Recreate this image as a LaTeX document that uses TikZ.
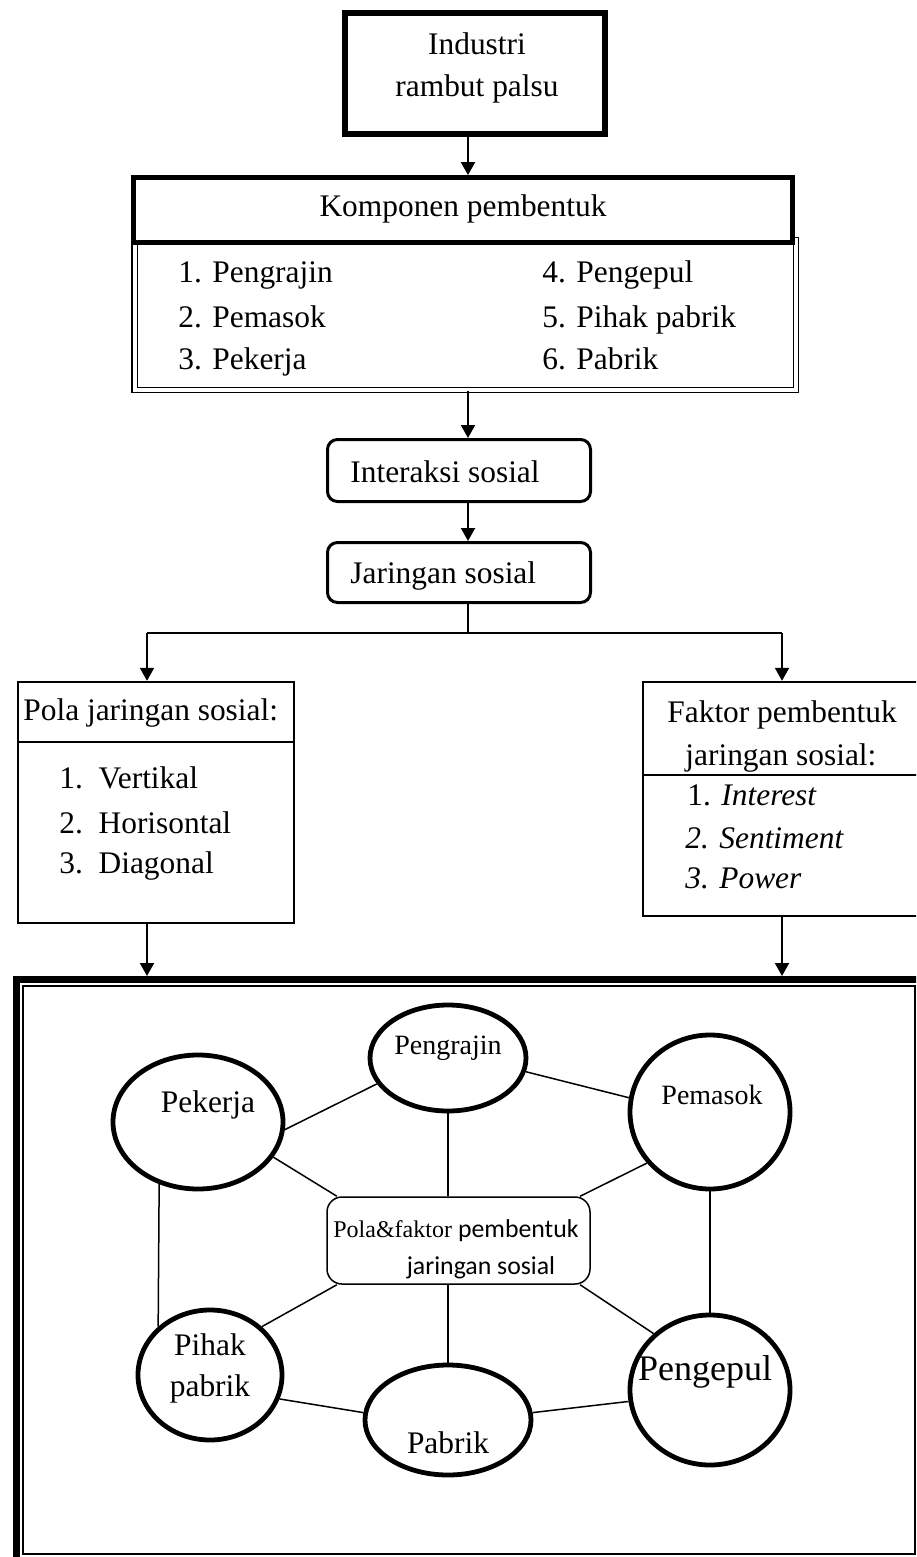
\documentclass[tikz,border=0pt]{standalone}
\usepackage{fontspec}
\setmainfont{Liberation Serif}
\newfontfamily\calibri{Carlito}
\usetikzlibrary{arrows.meta,shapes.geometric}

\begin{document}
\begin{tikzpicture}[x=0.5pt,y=-0.5pt,
    font=\fontsize{15.7}{20}\selectfont,
    arr/.style={-{Triangle[width=7pt,length=6.5pt]},line width=1pt},
    txt/.style={inner sep=0pt,anchor=base west},
    ctxt/.style={inner sep=0pt,anchor=base},
    panel/.style={draw,inner sep=0pt,line width=1.2pt},
    softbox/.style={draw,rounded corners=5pt,line width=1.5pt,minimum width=131.5pt},
    member/.style={draw,ellipse,inner sep=0pt,line width=2.4pt},
    link/.style={line width=0.75pt}]
    % Page size
    \useasboundingbox (0,0) rectangle (916,1557);
    \clip (0,0) rectangle (916,1557);
    \coordinate (spine) at (468,0);

    % Draw Top Box
    \node[draw,line width=3pt,minimum width=130pt,minimum height=60.5pt] (industri) at (475,73.5) {};
    \node[ctxt] (industriA) at (477,55) {Industri};
    \node[ctxt] (industriB) at (477,97) {rambut palsu};

    % Komponen Box
    \node[draw,double,double distance=2pt,line width=0.7pt,minimum width=330.75pt,minimum height=75pt] (komponen) at (465.25,315) {};
    \node[draw,fill=white,line width=2.4pt,minimum width=329.5pt,minimum height=32.5pt] (judul) at (463,210) {};
    \node[ctxt] (judulTxt) at (463,217) {Komponen pembentuk};
    % -- left column
    \node[txt] (k1) at (178,283) {1. Pengrajin};
    \node[txt] (k2) at (178,327) {2. Pemasok};
    \node[txt] (k3) at (178,369) {3. Pekerja};
    % -- right column
    \node[txt] (k4) at (542,283) {4. Pengepul};
    \node[txt] (k5) at (542,327) {5. Pihak pabrik};
    \node[txt] (k6) at (542,369) {6. Pabrik};

    % Interaksi and Jaringan
    \node[softbox,minimum height=31pt] (interaksi) at (459,470.5) {};
    \node[txt] (interaksiTxt) at (350,482) {Interaksi sosial};
    \node[softbox,minimum height=30pt] (jaringan) at (459,572.5) {};
    \node[txt] (jaringanTxt) at (350,583) {Jaringan sosial};

    \draw[arr] (industri.south -| spine) -- (judul.north -| spine);
    \draw[arr] (komponen.south -| spine) -- (interaksi.north -| spine);
    \draw[arr] (interaksi.south -| spine) -- (jaringan.north -| spine);

    % Branch
    \coordinate (cabang) at (468,633);
    \coordinate (kiri) at (147,633);
    \coordinate (kanan) at (782,633);
    \draw[line width=1pt] (jaringan.south -| spine) -- (cabang);
    \draw[line width=1pt] (kiri) -- (kanan);

    % Pola Box
    \node[panel,minimum width=138pt,minimum height=120.5pt] (pola) at (156,802.5) {};
    \draw[line width=1.2pt] (pola.west |- 0,742) -- (pola.east |- 0,742);
    \node[txt] (polaTxt) at (23,720) {Pola jaringan sosial:};
    \node[txt] (p1) at (59,788) {1.\ \ Vertikal};
    \node[txt] (p2) at (59,833) {2.\ \ Horisontal};
    \node[txt] (p3) at (59,873) {3.\ \ Diagonal};

    % Faktor Box
    \node[panel,minimum width=153.5pt,minimum height=117pt] (faktor) at (796.5,799) {};
    \draw[line width=1.2pt] (faktor.west |- 0,775) -- (faktor.east |- 0,775);
    \node[txt] (faktorA) at (667,722) {Faktor pembentuk};
    \node[txt] (faktorB) at (685,765) {jaringan sosial:};
    \node[txt] (f1) at (687,805) {1. \textit{Interest}};
    \node[txt] (f2) at (685,848) {\textit{2. Sentiment}};
    \node[txt] (f3) at (685,888) {\textit{3. Power}};

    \draw[arr] (kiri) -- (pola.north -| kiri);
    \draw[arr] (kanan) -- (faktor.north -| kanan);

    % Big Frame
    \coordinate (bingkai) at (0,976);
    \draw[line width=3.5pt] (16.5,1570) -- (16.5,979.5) -- (930,979.5);
    \draw[line width=1pt] (23,986) rectangle (915,1554);
    \draw[arr] (pola.south -| kiri) -- (bingkai -| kiri);
    \draw[arr] (faktor.south -| kanan) -- (bingkai -| kanan);

    % Network Members
    \node[member,minimum width=78pt,minimum height=53pt] (pengrajin) at (448,1058) {};
    \node[member,minimum width=85pt,minimum height=67pt] (pekerja) at (198,1122) {};
    \node[member,minimum width=80pt,minimum height=77pt] (pemasok) at (710,1112) {};
    \node[member,minimum width=72pt,minimum height=65pt] (pihak) at (210,1375) {};
    \node[member,minimum width=83pt,minimum height=55pt] (pabrik) at (448,1420) {};
    \node[member,minimum width=80pt,minimum height=75pt] (pengepul) at (710,1390) {};
    \node[ctxt,font=\fontsize{14}{16}\selectfont] (pengrajinTxt) at (448,1054) {Pengrajin};
    \node[ctxt] (pekerjaTxt) at (208,1112) {Pekerja};
    \node[ctxt,font=\fontsize{14}{16}\selectfont] (pemasokTxt) at (712,1104) {Pemasok};
    \node[ctxt] (pihakA) at (210,1355) {Pihak};
    \node[ctxt] (pihakB) at (210,1396) {pabrik};
    \node[ctxt] (pabrikTxt) at (448,1453) {Pabrik};
    \node[ctxt,font=\fontsize{18}{20}\selectfont] (pengepulTxt) at (705,1380) {Pengepul};

    % Center Box
    \node[draw,rounded corners=7.5pt,line width=0.75pt,minimum width=131.5pt,minimum height=43.5pt] (pusat) at (458.5,1240.5) {};
    \node[ctxt] (pusatA) at (456,1237) {\fontsize{12}{14}\selectfont Pola\&faktor {\calibri\fontsize{12.9}{14}\selectfont pembentuk}};
    \node[ctxt] (pusatB) at (481,1274) {\calibri\fontsize{12.9}{14}\selectfont jaringan sosial};

    % Links
    \draw[link] (pekerja.355) -- (pengrajin.200);
    \draw[link] (pengrajin.350) -- (pemasok.170);
    \draw[link] (pengrajin.south) -- (pusat.north -| pengrajin.south);
    \draw[link] (pekerja.335) -- (pusat.160);
    \draw[link] (pemasok.219) -- (pusat.20);
    \draw[link] (pekerja.238) -- (pihak.137);
    \draw[link] (pemasok.south) -- (pengepul.north);
    \draw[link] (pusat.200) -- (pihak.43);
    \draw[link] (pusat.south -| pabrik.north) -- (pabrik.north);
    \draw[link] (pusat.340) -- (pengepul.135);
    \draw[link] (pihak.341) -- (pabrik.175);
    \draw[link] (pabrik.5) -- (pengepul.188);
\end{tikzpicture}
\end{document}
